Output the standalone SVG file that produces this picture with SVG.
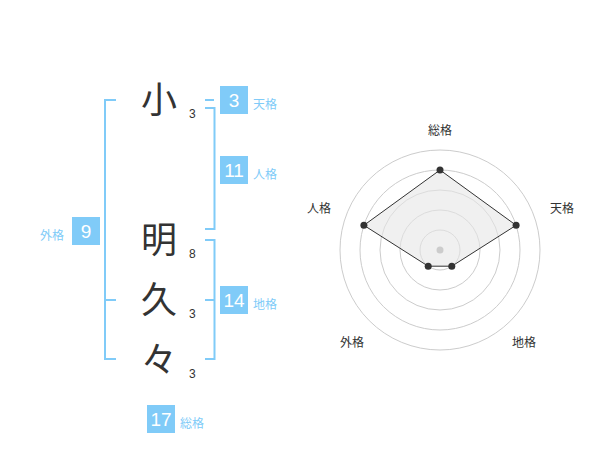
<svg xmlns="http://www.w3.org/2000/svg" width="600" height="470" viewBox="0 0 600 470">
<style>
.kanji{font-family:"Noto Sans CJK JP","Noto Sans",sans-serif;font-size:36px;fill:#333;text-anchor:middle}
.stroke{font-family:"Liberation Sans",Arial,sans-serif;font-size:12px;fill:#333}
.box{fill:#80cbf8}
.num{font-family:"Liberation Sans",Arial,sans-serif;font-size:19px;fill:#fff;text-anchor:middle}
.lbl{font-family:"Noto Sans CJK JP","Noto Sans",sans-serif;font-size:12px;fill:#80cbf8}
.br{fill:none;stroke:#80cbf8;stroke-width:2}
.ring{fill:none;stroke:#ccc;stroke-width:1}
.axis{font-family:"Noto Sans CJK JP","Noto Sans",sans-serif;font-size:12px;fill:#333;text-anchor:middle}
.pt{fill:#333}
</style>
<rect width="600" height="470" fill="#fff"/>
<g id="chars">
<g id="c1"><text class="kanji" x="159" y="113">小</text><text class="stroke" x="189" y="118">3</text></g>
<g id="c2"><text class="kanji" x="159" y="253">明</text><text class="stroke" x="189" y="258">8</text></g>
<g id="c3"><text class="kanji" x="159" y="313">久</text><text class="stroke" x="189" y="318">3</text></g>
<g id="c4"><text class="kanji" x="159" y="373">々</text><text class="stroke" x="189" y="378">3</text></g>
</g>
<g id="connectors">
<polyline class="br" points="116,100 105,100 105,359 116,359"/>
<line class="br" x1="105" y1="300" x2="116" y2="300"/>
<line class="br" x1="205" y1="100" x2="214" y2="100"/>
<polyline class="br" points="205,108 214.5,108 214.5,229 205,229"/>
<polyline class="br" points="205,240 214.5,240 214.5,359 205,359"/>
<line class="br" x1="205" y1="300" x2="214.5" y2="300"/>
</g>
<g id="tenkaku"><rect class="box" x="220" y="86" width="28" height="28"/><text class="num" x="234" y="107">3</text><text class="lbl" x="253" y="109">天格</text></g>
<g id="jinkaku"><rect class="box" x="220" y="156" width="28" height="28"/><text class="num" x="234" y="177">11</text><text class="lbl" x="253" y="179">人格</text></g>
<g id="chikaku"><rect class="box" x="220" y="286" width="28" height="28"/><text class="num" x="234" y="307">14</text><text class="lbl" x="253" y="309">地格</text></g>
<g id="gaikaku"><rect class="box" x="72" y="217" width="28" height="28"/><text class="num" x="86" y="238">9</text><text class="lbl" x="40" y="240">外格</text></g>
<g id="soukaku"><rect class="box" x="147" y="405" width="28" height="28"/><text class="num" x="161" y="426">17</text><text class="lbl" x="180" y="428">総格</text></g>
<g id="radar">
<circle class="ring" cx="440" cy="250" r="20"/>
<circle class="ring" cx="440" cy="250" r="40"/>
<circle class="ring" cx="440" cy="250" r="60"/>
<circle class="ring" cx="440" cy="250" r="80"/>
<circle class="ring" cx="440" cy="250" r="100"/>
<polygon points="440,170 516.1,225.3 451.8,266.2 428.2,266.2 363.9,225.3" fill="#e6e6e6" fill-opacity="0.6" stroke="#333" stroke-width="1"/>
<circle cx="440" cy="250" r="3.5" fill="#ccc"/>
<circle class="pt" cx="440" cy="170" r="3.5"/>
<circle class="pt" cx="516.1" cy="225.3" r="3.5"/>
<circle class="pt" cx="451.8" cy="266.2" r="3.5"/>
<circle class="pt" cx="428.2" cy="266.2" r="3.5"/>
<circle class="pt" cx="363.9" cy="225.3" r="3.5"/>
<text class="axis" x="440" y="135">総格</text>
<text class="axis" x="562" y="213">天格</text>
<text class="axis" x="524" y="347">地格</text>
<text class="axis" x="352" y="347">外格</text>
<text class="axis" x="319" y="213">人格</text>
</g>
</svg>
